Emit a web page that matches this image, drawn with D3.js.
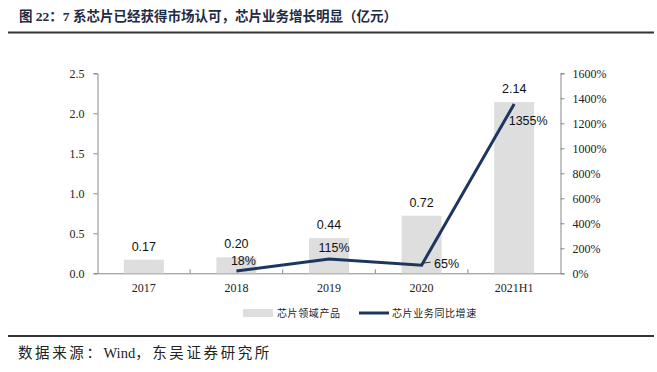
<!DOCTYPE html>
<html>
<head>
<meta charset="utf-8">
<script src="https://cdn.jsdelivr.net/npm/d3@7"></script>
<style>
body { margin: 0; background: #fff; }
</style>
</head>
<body>
<script>
// Chart data
var categories = ["2017", "2018", "2019", "2020", "2021H1"];
var revenue = [0.17, 0.20, 0.44, 0.72, 2.14];
var growth = [null, 18, 115, 65, 1355];
var leftTicks = [0, 0.5, 1.0, 1.5, 2.0, 2.5];
var rightTicks = [0, 200, 400, 600, 800, 1000, 1200, 1400, 1600];

var W = 657, H = 372;
var plot = {left: 97.5, right: 560.5, top: 73.3, bottom: 273.3};

var svg = d3.select("body").append("svg")
    .attr("width", W)
    .attr("height", H);

var serif = "'Liberation Serif', 'Times New Roman', serif";
var sans = "'Liberation Sans', Arial, sans-serif";
var cjk = "'Noto Sans CJK SC', sans-serif";
var mixed = "'Liberation Serif', 'Noto Sans CJK SC', serif";

// Title and rules
svg.append("text")
    .attr("x", 19)
    .attr("y", 20.5)
    .attr("font-family", mixed)
    .attr("font-weight", "bold")
    .attr("font-size", 13.5)
    .attr("fill", "#1f2a44")
    .text("图 22：7 系芯片已经获得市场认可，芯片业务增长明显（亿元）");

svg.append("line")
    .attr("x1", 8).attr("x2", 654)
    .attr("y1", 32.5).attr("y2", 32.5)
    .attr("stroke", "#333").attr("stroke-width", 2);

svg.append("line")
    .attr("x1", 8).attr("x2", 654)
    .attr("y1", 336).attr("y2", 336)
    .attr("stroke", "#333").attr("stroke-width", 2);

// Source note: wide spacing on the CJK parts only
var src = svg.append("text")
    .attr("x", 18)
    .attr("y", 358)
    .attr("font-family", mixed)
    .attr("font-size", 14.5)
    .attr("fill", "#222");
src.append("tspan").attr("letter-spacing", 2.6).text("数据来源：");
src.append("tspan").attr("letter-spacing", 0).text("Wind");
src.append("tspan").attr("letter-spacing", 2.6).text("，东吴证券研究所");

// Scales
var x = d3.scaleBand().domain(categories)
    .range([plot.left, plot.right]);
var yL = d3.scaleLinear().domain([0, 2.5])
    .range([plot.bottom, plot.top]);
var yR = d3.scaleLinear().domain([0, 1600])
    .range([plot.bottom, plot.top]);

// Axes
var axisColor = "#888";

var gx = svg.append("g")
    .attr("transform", "translate(0," + plot.bottom + ")")
    .call(d3.axisBottom(x).tickSize(0).tickPadding(10));
gx.select(".domain").attr("stroke", axisColor);
gx.selectAll("text")
    .attr("font-family", serif).attr("font-size", 12).attr("fill", "#222");
// tick marks between categories
svg.append("g").selectAll("line")
    .data(categories.slice(1))
    .enter().append("line")
    .attr("x1", function(d) { return x(d); })
    .attr("x2", function(d) { return x(d); })
    .attr("y1", plot.bottom).attr("y2", plot.bottom - 4)
    .attr("stroke", axisColor);

var gl = svg.append("g")
    .attr("transform", "translate(" + plot.left + ",0)")
    .call(d3.axisLeft(yL).tickValues(leftTicks).tickSize(4)
        .tickPadding(9).tickFormat(d3.format(".1f")));
gl.select(".domain").attr("stroke", axisColor);
gl.selectAll("line").attr("stroke", axisColor);
gl.selectAll("text")
    .attr("font-family", serif).attr("font-size", 12).attr("fill", "#222");

var gr = svg.append("g")
    .attr("transform", "translate(" + plot.right + ",0)")
    .call(d3.axisRight(yR).tickValues(rightTicks).tickSize(4)
        .tickPadding(8).tickFormat(function(d) { return d + "%"; }));
gr.select(".domain").attr("stroke", axisColor);
gr.selectAll("line").attr("stroke", axisColor);
gr.selectAll("text")
    .attr("font-family", serif).attr("font-size", 12).attr("fill", "#222");

// Bars
var barW = 40;
svg.append("g").selectAll("rect")
    .data(revenue)
    .enter().append("rect")
    .attr("x", function(d, i) {
        return x(categories[i]) + x.bandwidth() / 2 - barW / 2;
    })
    .attr("y", function(d) { return yL(d); })
    .attr("width", barW)
    .attr("height", function(d) { return plot.bottom - yL(d); })
    .attr("fill", "#dedede");

svg.append("g").selectAll("text")
    .data(revenue)
    .enter().append("text")
    .attr("x", function(d, i) {
        return x(categories[i]) + x.bandwidth() / 2;
    })
    .attr("y", function(d) { return yL(d) - 9; })
    .attr("text-anchor", "middle")
    .attr("font-family", sans).attr("font-size", 12.5).attr("fill", "#111")
    .text(function(d) { return d.toFixed(2); });

// Growth line
var pts = [];
growth.forEach(function(g, i) {
    if (g !== null) pts.push({cat: categories[i], v: g});
});
var line = d3.line()
    .x(function(d) { return x(d.cat) + x.bandwidth() / 2; })
    .y(function(d) { return yR(d.v); });

svg.append("path")
    .datum(pts)
    .attr("d", line)
    .attr("fill", "none")
    .attr("stroke", "#1c365e")
    .attr("stroke-width", 3);

// Growth labels (offsets relative to the point)
var labelOff = {"2018": [7, -10], "2019": [5, -11], "2020": [25, -1],
    "2021H1": [14, 17]};
pts.forEach(function(p) {
    var px = x(p.cat) + x.bandwidth() / 2, py = yR(p.v);
    var o = labelOff[p.cat];
    svg.append("text")
        .attr("x", px + o[0]).attr("y", py + o[1] + 4)
        .attr("text-anchor", "middle")
        .attr("font-family", sans).attr("font-size", 12.5)
        .attr("fill", "#111")
        .text(p.v + "%");
    if (p.cat === "2020") {
        svg.append("line")
            .attr("x1", px + 1).attr("x2", px + 9)
            .attr("y1", py - 2).attr("y2", py - 3)
            .attr("stroke", "#333").attr("stroke-width", 1);
    }
});

// Legend
var lg = svg.append("g");
lg.append("rect")
    .attr("x", 243).attr("y", 309)
    .attr("width", 30).attr("height", 8)
    .attr("fill", "#dedede");
lg.append("text")
    .attr("x", 277).attr("y", 317)
    .attr("font-family", cjk).attr("font-size", 10)
    .attr("letter-spacing", 0.6).attr("fill", "#222")
    .text("芯片领域产品");
lg.append("line")
    .attr("x1", 359).attr("x2", 389)
    .attr("y1", 313).attr("y2", 313)
    .attr("stroke", "#1c365e").attr("stroke-width", 3);
lg.append("text")
    .attr("x", 392).attr("y", 317)
    .attr("font-family", cjk).attr("font-size", 10)
    .attr("letter-spacing", 0.6).attr("fill", "#222")
    .text("芯片业务同比增速");
</script>
</body>
</html>
